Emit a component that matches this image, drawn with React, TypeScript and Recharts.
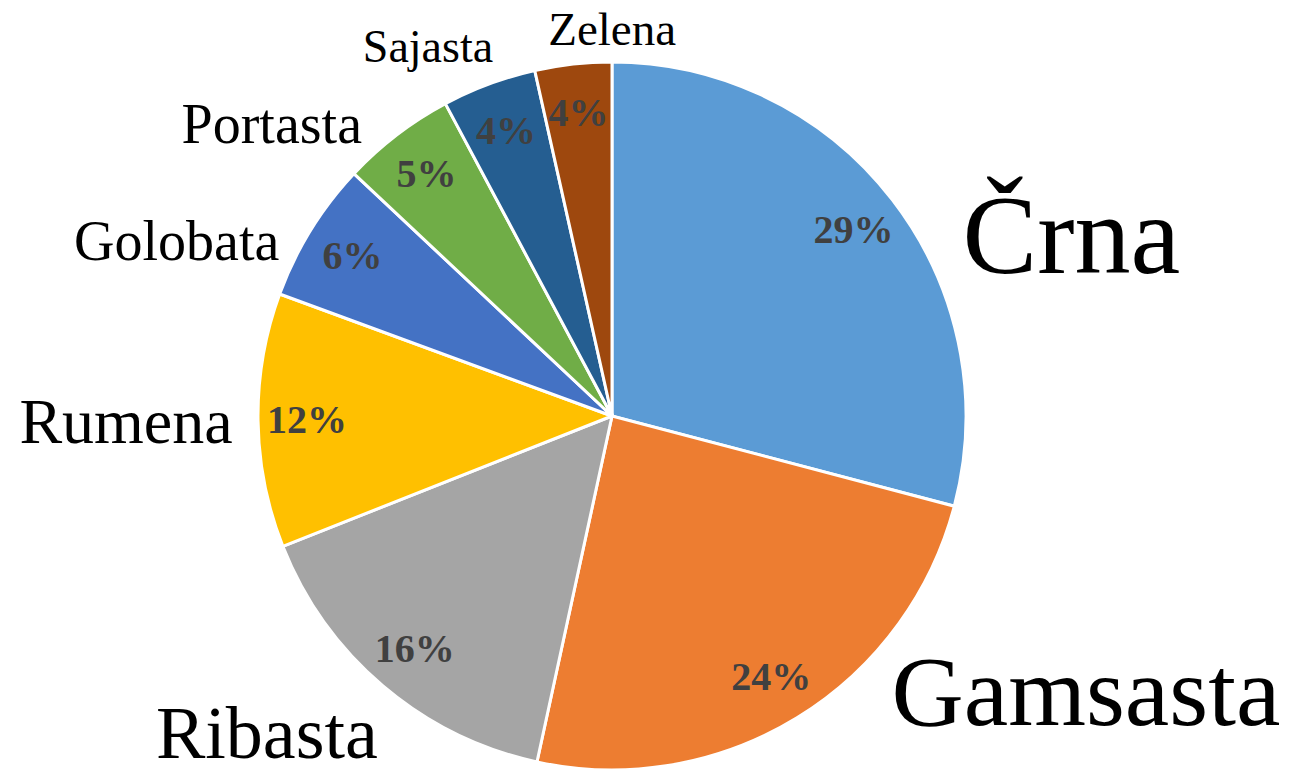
import React from "react";
import { PieChart, Pie, Cell } from "recharts";

const categories = ["Črna", "Gamsasta", "Ribasta", "Rumena", "Golobata", "Portasta", "Sajasta", "Zelena"];
const shares = [29.1, 24.3, 15.6, 11.6, 6.4, 5.2, 4.3, 3.5];
const colors = ["#5B9BD5", "#ED7D31", "#A5A5A5", "#FFC000", "#4472C4", "#70AD47", "#255E91", "#9E480E"];

// name label styling: font size and offset from the slice's outer edge point
const nameFontSizes = [112, 100, 74, 64, 56, 56, 46, 47];
const nameOffsets = [
  [179, 73],
  [289, 7],
  [-116, 72],
  [-132, 23],
  [-134, 30],
  [-125, 8],
  [-61, -22],
  [39, -19],
];

const data = categories.map((name, i) => ({ name, value: shares[i] }));

const RADIAN = Math.PI / 180;
const FONT = '"Liberation Serif", "Times New Roman", serif';

const renderLabel = (props: any) => {
  const { cx, cy, midAngle, outerRadius, percent, index } = props;
  const cos = Math.cos(-midAngle * RADIAN);
  const sin = Math.sin(-midAngle * RADIAN);
  const inR = 305;
  const px = cx + inR * cos;
  const py = cy + inR * sin;
  const ex = cx + outerRadius * cos;
  const ey = cy + outerRadius * sin;
  const [dx, dy] = nameOffsets[index];
  return (
    <g>
      <text
        x={px}
        y={py}
        textAnchor="middle"
        dominantBaseline="central"
        fill="#404040"
        fontFamily={FONT}
        fontWeight="bold"
        fontSize={40}
      >
        {`${Math.round(percent * 100)}%`}
      </text>
      <text
        x={ex + dx}
        y={ey + dy}
        textAnchor="middle"
        fill="#000"
        fontFamily={FONT}
        fontSize={nameFontSizes[index]}
      >
        {categories[index]}
      </text>
    </g>
  );
};

export default function App() {
  return (
    <div style={{ position: "absolute", left: 0, top: 0, width: 1293, height: 772, background: "#fff" }}>
      <PieChart width={1293} height={772} margin={{ top: 0, right: 0, bottom: 0, left: 0 }}>
        <Pie
          data={data}
          dataKey="value"
          nameKey="name"
          cx={612}
          cy={416}
          outerRadius={354}
          startAngle={90}
          endAngle={-270}
          stroke="#fff"
          strokeWidth={3}
          label={renderLabel}
          labelLine={false}
          isAnimationActive={false}
        >
          {data.map((d, i) => (
            <Cell key={d.name} fill={colors[i]} />
          ))}
        </Pie>
      </PieChart>
    </div>
  );
}
